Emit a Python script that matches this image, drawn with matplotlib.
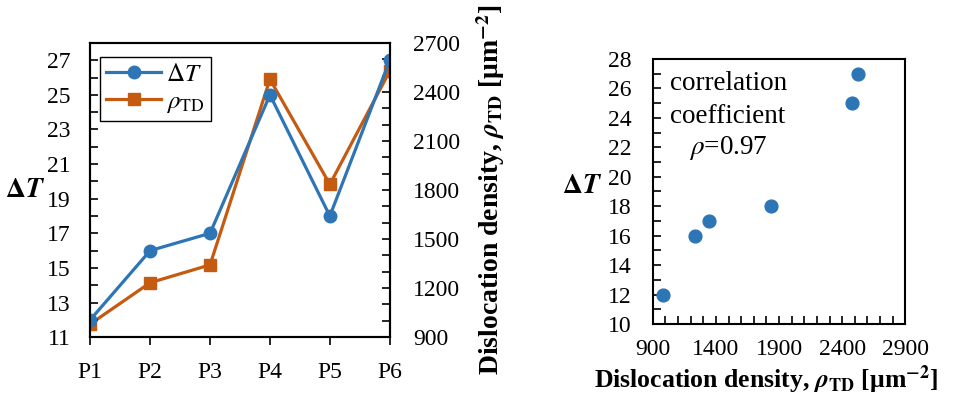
import numpy as np
import matplotlib
matplotlib.use("Agg")
import matplotlib.pyplot as plt
from matplotlib.ticker import FixedLocator, MultipleLocator

plt.rcParams['font.family'] = ['Liberation Serif', 'DejaVu Serif']
plt.rcParams['mathtext.fontset'] = 'stix'
plt.rcParams['font.size'] = 17

# data
points = ['P1', 'P2', 'P3', 'P4', 'P5', 'P6']
delta_t = [12, 16, 17, 25, 18, 27]
rho_td = [980, 1233, 1342, 2478, 1835, 2528]

blue = '#2E75B6'
orange = '#C55A11'
label_rho = r'Dislocation density, $\boldsymbol{\rho}_{\mathbf{TD}}$ [μm$^{\mathbf{-2}}$]'

fig = plt.figure(figsize=(9.6, 3.98), dpi=100)

# left: line chart with twin axis
ax1 = fig.add_axes([0.094, 0.153, 0.312, 0.739])
x = np.arange(len(points))
l1, = ax1.plot(x, delta_t, color=blue, lw=2.3, marker='o', ms=9, label=r'$\Delta T$')
ax1.set_xlim(0, 5)
ax1.set_ylim(11, 28)
ax1.set_xticks(x)
ax1.set_xticklabels(points)
ax1.yaxis.set_major_locator(FixedLocator(np.arange(11, 28, 2)))
ax1.yaxis.set_minor_locator(FixedLocator(np.arange(12, 29, 2)))
ax1.tick_params(axis='y', which='both', direction='in', length=6, width=1.2, pad=14)
ax1.tick_params(axis='x', direction='out', length=6, width=1.2, pad=12)
ax1.set_ylabel(r'$\boldsymbol{\Delta T}$', rotation=0, labelpad=16, va='center', fontsize=20)

ax2 = ax1.twinx()
l2, = ax2.plot(x, rho_td, color=orange, lw=2.3, marker='s', ms=9, label=r'$\rho_{\mathrm{TD}}$')
ax2.set_ylim(900, 2700)
ax2.yaxis.set_major_locator(MultipleLocator(300))
ax2.yaxis.set_minor_locator(MultipleLocator(100))
ax2.tick_params(axis='y', which='both', direction='in', length=6, width=1.2, pad=17)
ax2.set_ylabel(label_rho, fontweight='bold', labelpad=10, fontsize=20)
ax1.set_zorder(ax2.get_zorder() + 1)
ax1.patch.set_visible(False)

for ax in (ax1, ax2):
    for s in ax.spines.values():
        s.set_linewidth(1.5)

leg = ax1.legend(handles=[l1, l2], loc='upper left', bbox_to_anchor=(0.033, 0.953),
                 borderaxespad=0, fancybox=False, edgecolor='black', framealpha=1,
                 fontsize=18, handlelength=2.2, borderpad=0.25, labelspacing=0.2,
                 handletextpad=0.2)
leg.get_frame().set_linewidth(1.0)

# right: scatter
ax3 = fig.add_axes([0.680, 0.186, 0.263, 0.666])
ax3.scatter(rho_td, delta_t, s=85, color=blue, zorder=3)
ax3.set_xlim(900, 2900)
ax3.set_ylim(10, 28)
ax3.xaxis.set_major_locator(FixedLocator(np.arange(900, 2901, 500)))
ax3.xaxis.set_minor_locator(MultipleLocator(100))
ax3.yaxis.set_major_locator(MultipleLocator(2))
ax3.yaxis.set_minor_locator(MultipleLocator(1))
ax3.tick_params(which='both', direction='in', length=6, width=1.2, pad=15)
ax3.tick_params(axis='x', which='both', pad=11)
for s in ax3.spines.values():
    s.set_linewidth(1.5)
ax3.set_xlabel(label_rho, fontweight='bold', fontsize=18.5)
ax3.xaxis.set_label_coords(0.448, -0.15)
ax3.set_ylabel(r'$\boldsymbol{\Delta T}$', rotation=0, va='center', fontsize=20)
ax3.yaxis.set_label_coords(-0.28, 0.517)
ax3.text(0.07, 0.955, 'correlation\ncoefficient', transform=ax3.transAxes,
         ha='left', va='top', linespacing=1.45, fontsize=19.5)
ax3.text(0.145, 0.665, r'$\rho$=0.97', transform=ax3.transAxes, ha='left', va='center',
         fontsize=19.5)

fig.savefig('out.png', dpi=100)
